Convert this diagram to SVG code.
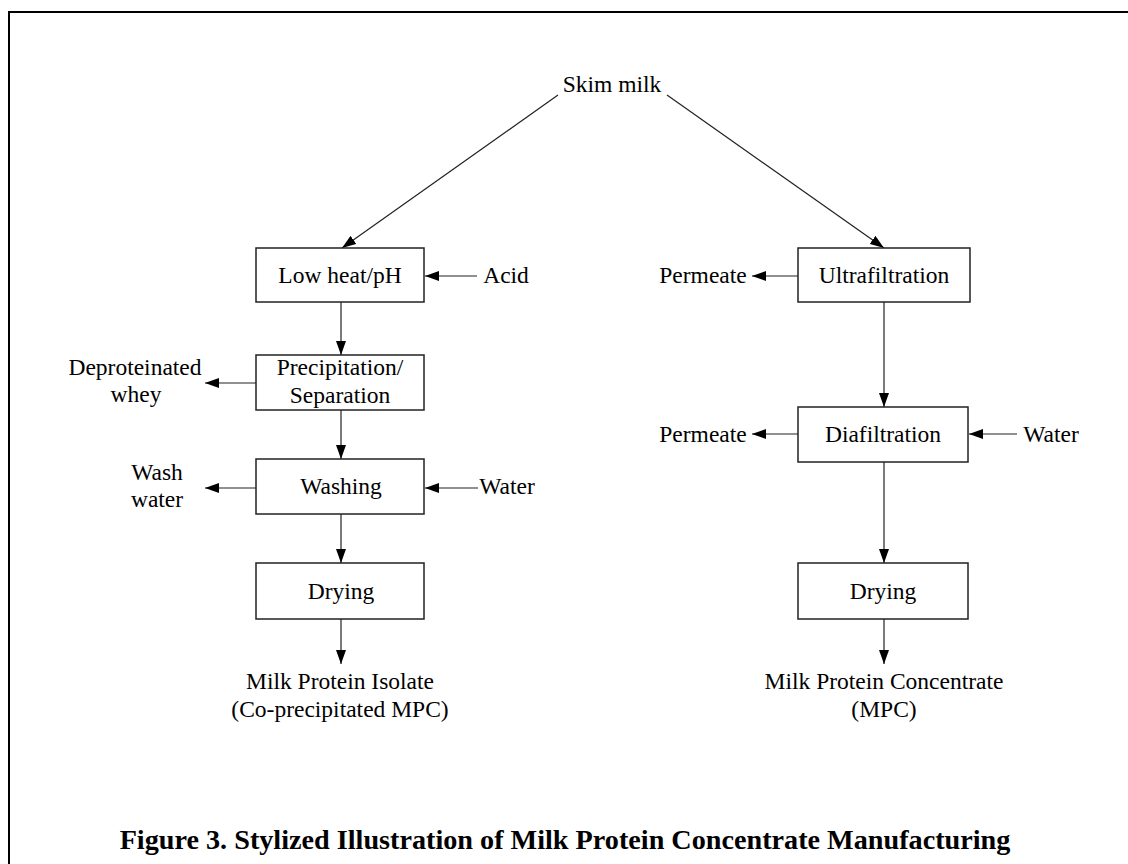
<svg xmlns="http://www.w3.org/2000/svg" width="1128" height="864" viewBox="0 0 1128 864">
<defs>
<marker id="ah" viewBox="0 0 14 10" refX="14" refY="5" markerWidth="14" markerHeight="10" markerUnits="userSpaceOnUse" orient="auto">
<path d="M0,0 L14,5 L0,10 Z" fill="#000"/>
</marker>
<style>
text{font-family:"Liberation Serif","Times New Roman",serif;font-size:23.5px;fill:#000;text-anchor:middle}
.box{fill:#fff;stroke:#222;stroke-width:1.5}
.c{stroke:#222;stroke-width:1.2;fill:none;marker-end:url(#ah)}
.cap{font-weight:bold;font-size:28.2px}
</style>
</defs>
<rect width="1128" height="864" fill="#fff"/>
<path d="M9,864 V12 H1128" fill="none" stroke="#000" stroke-width="2"/>
<g id="connectors">
<line class="c" x1="558" y1="95" x2="342" y2="248"/>
<line class="c" x1="667" y1="95" x2="884" y2="248"/>
<line class="c" x1="477" y1="276" x2="425" y2="276"/>
<line class="c" x1="341" y1="302" x2="341" y2="355"/>
<line class="c" x1="256" y1="383" x2="205" y2="383"/>
<line class="c" x1="341" y1="410" x2="341" y2="459"/>
<line class="c" x1="256" y1="488" x2="205" y2="488"/>
<line class="c" x1="478" y1="488" x2="425" y2="488"/>
<line class="c" x1="341" y1="514" x2="341" y2="563"/>
<line class="c" x1="341" y1="619" x2="341" y2="664"/>
<line class="c" x1="798" y1="276" x2="752" y2="276"/>
<line class="c" x1="884" y1="302" x2="884" y2="407"/>
<line class="c" x1="798" y1="434" x2="752" y2="434"/>
<line class="c" x1="1017" y1="434" x2="969" y2="434"/>
<line class="c" x1="884" y1="462" x2="884" y2="563"/>
<line class="c" x1="884" y1="619" x2="884" y2="664"/>
</g>
<g id="skim"><text x="612" y="92">Skim milk</text></g>
<g id="lowheat"><rect class="box" x="256" y="248" width="168" height="54"/><text x="340" y="283">Low heat/pH</text></g>
<g id="acid"><text x="506" y="283">Acid</text></g>
<g id="precip"><rect class="box" x="256" y="355" width="168" height="55"/><text x="340" y="375">Precipitation/</text><text x="340" y="403">Separation</text></g>
<g id="whey"><text x="135" y="375">Deproteinated</text><text x="136" y="402">whey</text></g>
<g id="washwater"><text x="157" y="480">Wash</text><text x="157" y="507">water</text></g>
<g id="washing"><rect class="box" x="256" y="459" width="168" height="55"/><text x="341" y="494">Washing</text></g>
<g id="water1"><text x="507" y="494">Water</text></g>
<g id="drying1"><rect class="box" x="256" y="563" width="168" height="56"/><text x="341" y="599">Drying</text></g>
<g id="mpi"><text x="340" y="689">Milk Protein Isolate</text><text x="340" y="717">(Co-precipitated MPC)</text></g>
<g id="ultra"><rect class="box" x="798" y="248" width="172" height="54"/><text x="884" y="283">Ultrafiltration</text></g>
<g id="perm1"><text x="703" y="283">Permeate</text></g>
<g id="dia"><rect class="box" x="798" y="407" width="170" height="55"/><text x="883" y="442">Diafiltration</text></g>
<g id="perm2"><text x="703" y="442">Permeate</text></g>
<g id="water2"><text x="1051" y="442">Water</text></g>
<g id="drying2"><rect class="box" x="798" y="563" width="170" height="56"/><text x="883" y="599">Drying</text></g>
<g id="mpc"><text x="884" y="689">Milk Protein Concentrate</text><text x="884" y="717">(MPC)</text></g>
<g id="caption"><text class="cap" x="565" y="849">Figure 3. Stylized Illustration of Milk Protein Concentrate Manufacturing</text></g>
</svg>
